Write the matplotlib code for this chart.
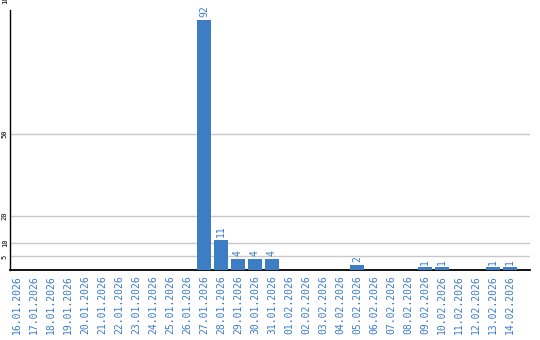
import matplotlib
matplotlib.use("Agg")
import matplotlib.pyplot as plt
import matplotlib.transforms as mtransforms

dates = ["16.01.2026", "17.01.2026", "18.01.2026", "19.01.2026", "20.01.2026",
         "21.01.2026", "22.01.2026", "23.01.2026", "24.01.2026", "25.01.2026",
         "26.01.2026", "27.01.2026", "28.01.2026", "29.01.2026", "30.01.2026",
         "31.01.2026", "01.02.2026", "02.02.2026", "03.02.2026", "04.02.2026",
         "05.02.2026", "06.02.2026", "07.02.2026", "08.02.2026", "09.02.2026",
         "10.02.2026", "11.02.2026", "12.02.2026", "13.02.2026", "14.02.2026"]
counts = [0, 0, 0, 0, 0, 0, 0, 0, 0, 0,
          0, 92, 11, 4, 4, 4, 0, 0, 0, 0,
          2, 0, 0, 0, 1, 1, 0, 0, 1, 1]
yticks = [5, 10, 20, 50]
top_tick = 100

blue = "#3c7dc4"
text_blue = "#3a7bc8"
mono = "DejaVu Sans Mono"

fig = plt.figure(figsize=(5.4, 3.4), dpi=100)
ax = fig.add_axes([10 / 540, 70 / 340, 520 / 540, 260 / 340])

x = list(range(len(dates)))
bars = ax.bar(x, counts, width=0.82, color=blue, zorder=3)
ax.bar_label(bars, labels=[str(c) if c else "" for c in counts], rotation=90,
             padding=2, color=text_blue, fontsize=7, family=mono)

ax.set_xlim(-0.41, 30.18)
ax.set_ylim(0, 95.6)

ax.set_xticks(x)
ax.set_xticklabels(dates, rotation=90, color=text_blue, fontsize=7, family=mono)
ax.set_yticks(yticks)
ax.set_yticklabels([str(v) for v in yticks], rotation=90, fontsize=5,
                   family=mono, va="center")
ax.tick_params(axis="both", length=0)
ax.tick_params(axis="x", pad=4)
ax.tick_params(axis="y", pad=1.5)

# top tick sits above the plot area, cut by the figure edge like the original
ax.text(-0.003, top_tick, str(top_tick),
        transform=mtransforms.blended_transform_factory(ax.transAxes, ax.transData),
        rotation=90, fontsize=5, family=mono, ha="right", va="center", clip_on=False)

ax.grid(axis="y", color="#c8c8c8", linewidth=1)
ax.set_axisbelow(True)
for s in ["top", "right"]:
    ax.spines[s].set_visible(False)
ax.spines["left"].set_linewidth(1)
ax.spines["bottom"].set_linewidth(1.3)

fig.savefig("out.png", dpi=100)
